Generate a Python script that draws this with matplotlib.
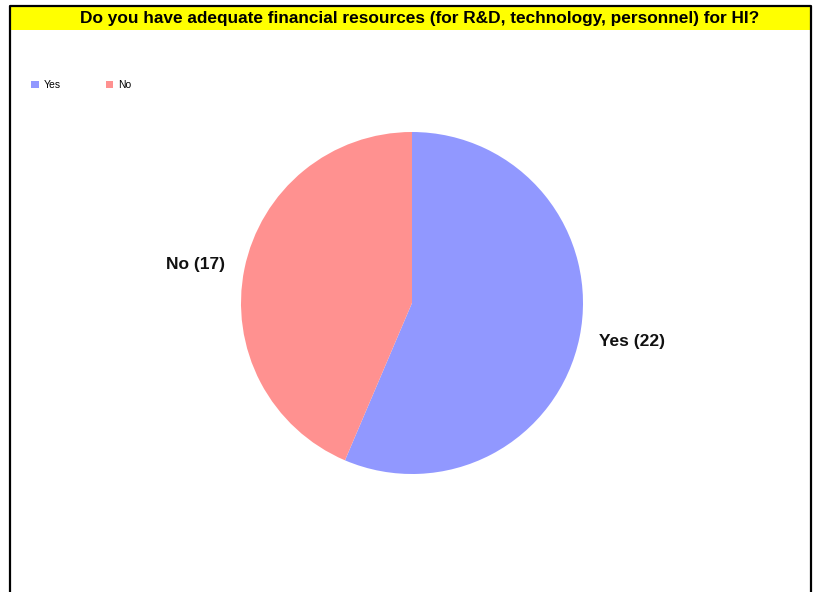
import matplotlib.pyplot as plt
from matplotlib.patches import Rectangle

# data
labels = ['Yes', 'No']
counts = [22, 17]
colors = ['#9198FF', '#FF9190']
title = 'Do you have adequate financial resources (for R&D, technology, personnel) for HI?'

plt.rcParams['font.family'] = ['Liberation Sans', 'DejaVu Sans']

W, H = 818, 592
fig = plt.figure(figsize=(W / 100, H / 100), dpi=100)
fig.patch.set_facecolor('white')

# yellow title band and black frame (pixel coords -> figure fraction)
def fx(px):
    return px / W

def fy(py):
    return 1 - py / H

fig.patches.append(Rectangle((fx(10), fy(30)), fx(811) - fx(10), fy(6) - fy(30),
                             transform=fig.transFigure, facecolor='#FFFF00',
                             edgecolor='none', zorder=0))
fig.add_artist(plt.Line2D([fx(10), fx(10), fx(811), fx(811)],
                          [fy(600), fy(6), fy(6), fy(600)],
                          transform=fig.transFigure, color='black', lw=1.6))
fig.text(fx(420), fy(18), title, ha='center', va='center',
         fontsize=12.4, fontweight='bold')

# pie
cx, cy, r = 412, 303, 171
ax = fig.add_axes([fx(cx - r), fy(cy + r), 2 * r / W, 2 * r / H])
pie_labels = ['%s (%d)' % (l, c) for l, c in zip(labels, counts)]
wedges, texts = ax.pie(counts, colors=colors, startangle=90, counterclock=False,
                       labels=pie_labels, labeldistance=1.115,
                       textprops=dict(fontsize=12.5, fontweight='bold', color='#111111'))
ax.set_xlim(-1, 1)
ax.set_ylim(-1, 1)

# legend
leg = fig.legend(wedges, labels, loc='upper left', bbox_to_anchor=(fx(22), fy(71)),
                 ncol=2, frameon=False, fontsize=7.5, handlelength=0.7,
                 handleheight=0.7, handletextpad=0.5, columnspacing=4.3)

fig.savefig('out.png', dpi=100)
